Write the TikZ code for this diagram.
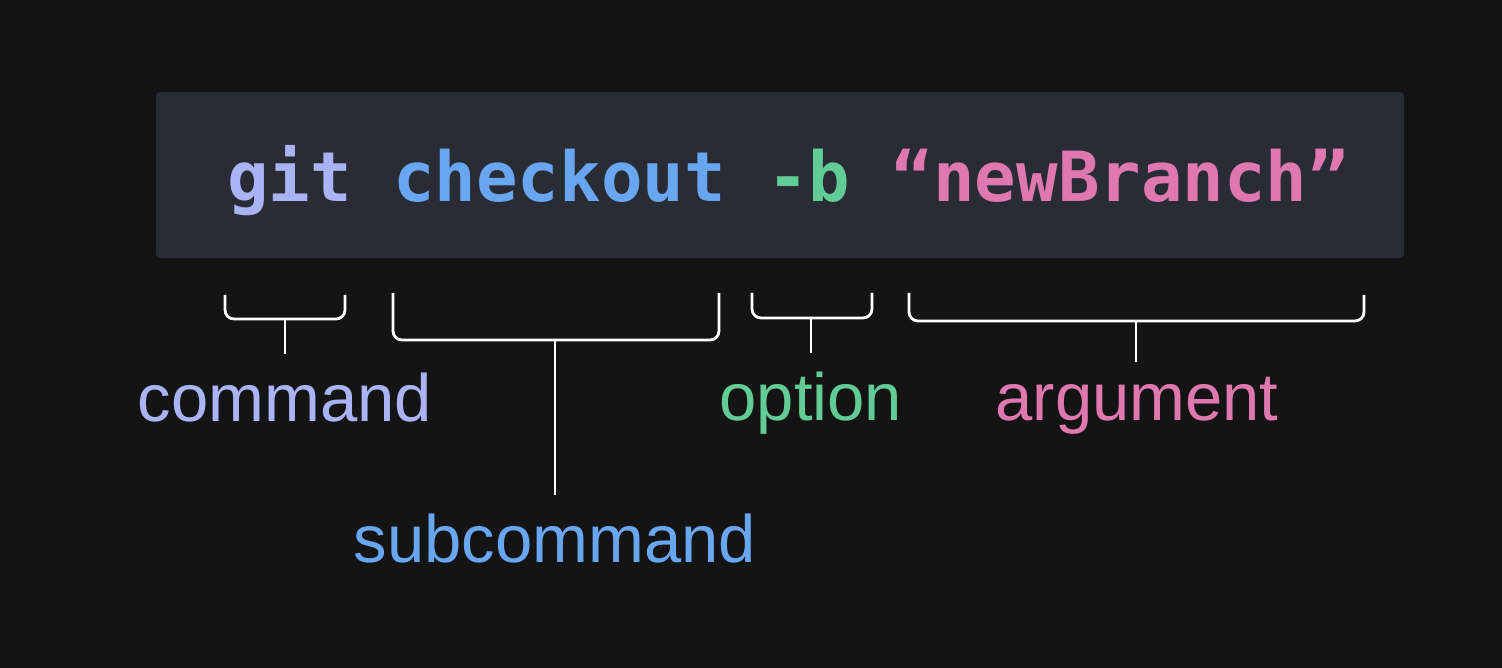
\documentclass[tikz,border=0pt]{standalone}
\usepackage{fontspec}
\setmainfont{Liberation Sans}
\newfontfamily\codefont{DejaVu Sans Mono}[BoldFont={DejaVu Sans Mono Bold}]
\definecolor{bgc}{RGB}{20,20,20}
\definecolor{boxc}{RGB}{41,44,53}
\definecolor{cgit}{RGB}{170,180,245}
\definecolor{csub}{RGB}{104,166,240}
\definecolor{copt}{RGB}{98,204,150}
\definecolor{carg}{RGB}{224,120,176}
\begin{document}
\begin{tikzpicture}[x=1pt,y=-1pt,
  codetext/.style={inner sep=0pt,anchor=base,font=\codefont\bfseries\fontsize{69}{80}\selectfont},
  label/.style={inner sep=0pt,anchor=base,font=\fontsize{67}{78}\selectfont},
  bracket/.style={draw=white,line width=2.8pt,rounded corners=9pt},
  stem/.style={draw=white,line width=2.8pt}]
\useasboundingbox[fill=bgc] (0,0) rectangle (1502,668);
\fill[boxc,rounded corners=4pt] (156,92) rectangle (1404,258);
\node[codetext] (cmdline) at (788,202) {\textcolor{cgit}{git} \textcolor{csub}{checkout} \textcolor{copt}{-b} \textcolor{carg}{“newBranch”}};
% labels
\node[label,text=cgit] (lcmd) at (285,421) {command};
\node[label,text=csub] (lsub) at (555,562) {subcommand};
\node[label,text=copt] (lopt) at (811,420) {option};
\node[label,text=carg] (larg) at (1137,420) {argument};
% brackets
\draw[bracket] (225,295) -- (225,319) -- (345,319) -- (345,295);
\draw[bracket] (393,293) -- (393,340) -- (719,340) -- (719,293);
\draw[bracket] (752,293) -- (752,318) -- (872,318) -- (872,293);
\draw[bracket] (909,293) -- (909,321) -- (1364,321) -- (1364,295);
% stem coordinates
\coordinate (bcmd) at (285,319);
\coordinate (ecmd) at (285,354);
\coordinate (bsub) at (555,340);
\coordinate (esub) at (555,495);
\coordinate (bopt) at (811,318);
\coordinate (eopt) at (811,353);
\coordinate (barg) at (1136,321);
\coordinate (earg) at (1136,362);
\draw[stem] (bcmd) -- (ecmd);
\draw[stem] (bsub) -- (esub);
\draw[stem] (bopt) -- (eopt);
\draw[stem] (barg) -- (earg);
\end{tikzpicture}
\end{document}
